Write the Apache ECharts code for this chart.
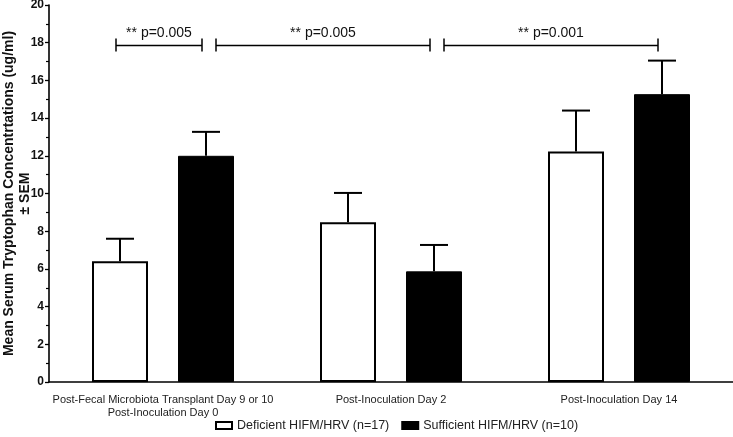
<!DOCTYPE html>
<html>
<head>
<meta charset="utf-8">
<script src="https://cdn.jsdelivr.net/npm/echarts@6/dist/echarts.min.js"></script>
<style>html,body{margin:0;padding:0;background:#fff}#c{width:733px;height:437px}</style>
</head>
<body>
<div id="c"></div>
<script>
// ---- data ----
const categories = ['Post-Fecal Microbiota Transplant Day 9 or 10\nPost-Inoculation Day 0', 'Post-Inoculation Day 2', 'Post-Inoculation Day 14'];
const seriesNames = ['Deficient HIFM/HRV (n=17)', 'Sufficient HIFM/HRV (n=10)'];
const deficient = [6.40, 8.47, 12.23];
const deficientSEM = [1.20, 1.56, 2.17];
const sufficient = [12.0, 5.87, 15.27];
const sufficientSEM = [1.27, 1.40, 1.78];
const yMin = 0, yMax = 20, yInterval = 2;
// brackets: [fromCategory, fromSeries, toCategory, toSeries, yLevel, label]
const brackets = [
  [0, 0, 0, 1, 17.85, '** p=0.005'],
  [0, 1, 1, 1, 17.85, '** p=0.005'],
  [1, 1, 2, 1, 17.85, '** p=0.001']
];

// ---- style constants ----
const FONT = '"Liberation Sans", Arial, sans-serif';
const BAR_W = 56, BAR_GAP_PX = 30;
const OFFSETS = [-(BAR_W + BAR_GAP_PX) / 2, (BAR_W + BAR_GAP_PX) / 2];

const chart = echarts.init(document.getElementById('c'), null, {renderer: 'canvas'});

function errData(vals, sems) { return vals.map((v, i) => [i, v, sems[i]]); }
function errRender(sIdx) {
  return function (params, api) {
    const base = api.coord([api.value(0), api.value(1)]);
    const top = api.coord([api.value(0), api.value(1) + api.value(2)]);
    const x = base[0] + OFFSETS[sIdx];
    const st = {stroke: '#000', lineWidth: 2};
    return {type: 'group', children: [
      {type: 'line', shape: {x1: x, y1: base[1], x2: x, y2: top[1]}, style: st},
      {type: 'line', shape: {x1: x - 14, y1: top[1], x2: x + 14, y2: top[1]}, style: st}
    ]};
  };
}

const option = {
  animation: false,
  backgroundColor: '#fff',
  grid: {left: 49, right: 0, top: 5, bottom: 55, containLabel: false, outerBoundsMode: 'none'},
  legend: {
    left: 210, top: 414, itemWidth: 16, itemHeight: 7, itemGap: 12,
    icon: 'rect',
    textStyle: {fontFamily: FONT, fontSize: 12.5, color: '#222'},
    data: seriesNames
  },
  xAxis: {
    type: 'category', data: categories,
    axisLine: {lineStyle: {color: '#000', width: 1.6}},
    axisTick: {alignWithLabel: true, length: 4, lineStyle: {color: '#000', width: 1.2}},
    axisLabel: {interval: 0, fontFamily: FONT, fontSize: 11, color: '#222', margin: 11, lineHeight: 13}
  },
  yAxis: {
    type: 'value', min: yMin, max: yMax, interval: yInterval,
    name: 'Mean Serum Tryptophan Concentrtations (ug/ml)\n± SEM',
    nameLocation: 'middle', nameGap: 16, nameMoveOverlap: false,
    nameTextStyle: {fontFamily: FONT, fontSize: 14, fontWeight: 'bold', color: '#111', lineHeight: 16},
    axisLine: {show: true, lineStyle: {color: '#000', width: 1.6}},
    axisTick: {show: true, length: 4, lineStyle: {color: '#000', width: 1.3}},
    minorTick: {show: true, splitNumber: 2, length: 3, lineStyle: {color: '#000', width: 1.2}},
    splitLine: {show: false},
    axisLabel: {fontFamily: FONT, fontSize: 12, fontWeight: 'bold', color: '#111', margin: 5}
  },
  series: [
    {
      name: seriesNames[0], type: 'bar', data: deficient,
      barWidth: BAR_W, barGap: (BAR_GAP_PX / BAR_W * 100) + '%',
      itemStyle: {color: '#fff', borderColor: '#000', borderWidth: 2}
    },
    {
      name: seriesNames[1], type: 'bar', data: sufficient,
      barWidth: BAR_W, barGap: (BAR_GAP_PX / BAR_W * 100) + '%',
      itemStyle: {color: '#000', borderColor: '#000', borderWidth: 1}
    },
    {
      type: 'custom', data: errData(deficient, deficientSEM), encode: {x: 0, y: 1},
      renderItem: errRender(0), z: 3, silent: true
    },
    {
      type: 'custom', data: errData(sufficient, sufficientSEM), encode: {x: 0, y: 1},
      renderItem: errRender(1), z: 3, silent: true
    },
    {
      type: 'custom', data: brackets, encode: {x: 0, y: 4}, z: 4, silent: true, clip: false,
      renderItem: function (params, api) {
        const b = brackets[params.dataIndex];
        const p1 = api.coord([b[0], b[4]]);
        const p2 = api.coord([b[2], b[4]]);
        const x1 = p1[0] + OFFSETS[b[1]] + (b[1] === 1 ? 10 : -4);
        const x2 = p2[0] + OFFSETS[b[3]] - 4;
        const y = p1[1];
        const st = {stroke: '#000', lineWidth: 1.5};
        return {type: 'group', children: [
          {type: 'line', shape: {x1: x1, y1: y, x2: x2, y2: y}, style: st},
          {type: 'line', shape: {x1: x1, y1: y - 7, x2: x1, y2: y + 6}, style: st},
          {type: 'line', shape: {x1: x2, y1: y - 7, x2: x2, y2: y + 6}, style: st},
          {type: 'text', style: {text: b[5], x: (x1 + x2) / 2, y: y - 5, align: 'center', verticalAlign: 'bottom',
            font: '14px ' + FONT, fill: '#111'}}
        ]};
      }
    }
  ]
};
chart.setOption(option);
</script>
</body>
</html>
